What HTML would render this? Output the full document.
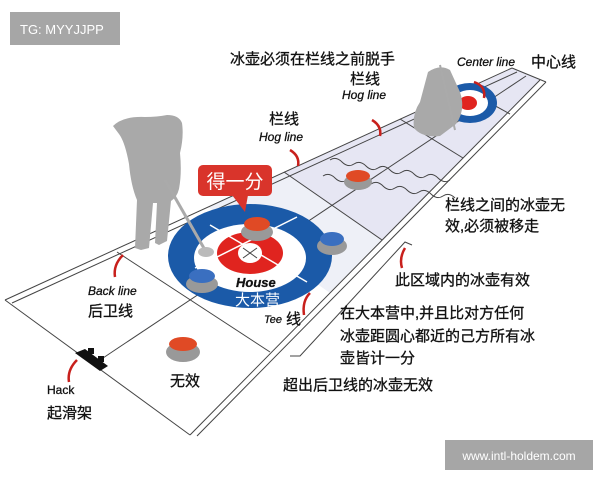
<!DOCTYPE html>
<html><head><meta charset="utf-8"><style>
html,body{margin:0;padding:0;background:#fff;}
svg{display:block}
text{font-family:"Liberation Sans","Noto Sans CJK SC",sans-serif;}
</style></head><body>
<svg width="600" height="480" viewBox="0 0 600 480" xmlns="http://www.w3.org/2000/svg">
<rect width="600" height="480" fill="#fff"/>
<polygon points="5,300 512,68 540,80 190,435" fill="#fff"/>
<polygon points="284,172 512,68 540,80 382,240" fill="#e6e6f3"/>
<polygon points="208,207 284,172 382,240 330,293" fill="#eef0f7"/>
<g stroke="#444" stroke-width="1" fill="none">
<line x1="5" y1="300" x2="512" y2="68"/>
<line x1="12" y1="303" x2="517" y2="72"/>
<line x1="190" y1="435" x2="540" y2="80"/>
<line x1="197" y1="436" x2="546" y2="82"/>
<line x1="5" y1="300" x2="190" y2="435"/>
<line x1="512" y1="68" x2="546" y2="82"/>
<line x1="117" y1="252" x2="270" y2="352"/>
<line x1="284" y1="172" x2="382" y2="240"/>
<line x1="400" y1="119" x2="463" y2="158"/>
<line x1="470" y1="92" x2="510" y2="114"/>
<line x1="100" y1="360" x2="526" y2="76"/>
<polyline points="290,356 300,356 405,242 412,245"/>
</g>
<path d="M330,160 q6,-4 12,2 t12,2 t12,2 t12,2 t12,2 t12,2 t12,2 t12,2 t12,2 t12,2" stroke="#444" fill="none"/>
<path d="M325,168 q6,-4 12,2 t12,2 t12,2 t12,2 t12,2 t12,2 t12,2 t12,2 t12,2 t12,2 t12,2" stroke="#444" fill="none" transform="translate(-2,8)"/>
<ellipse cx="250" cy="256" rx="82" ry="52" fill="#1b5aa8"/>
<ellipse cx="250" cy="258" rx="56" ry="34" fill="#fff"/>
<ellipse cx="250" cy="253" rx="33" ry="21" fill="#e0241f"/>
<ellipse cx="250" cy="253" rx="12" ry="10" fill="#fff"/>
<line x1="210" y1="225" x2="307" y2="282" stroke="#fff" stroke-width="1.5"/>
<line x1="195" y1="268" x2="297" y2="217" stroke="#fff" stroke-width="1.5"/>
<line x1="243" y1="248" x2="257" y2="258" stroke="#444"/>
<line x1="243" y1="258" x2="257" y2="248" stroke="#444"/>
<ellipse cx="470" cy="103" rx="27" ry="20" fill="#1b5aa8"/>
<ellipse cx="470" cy="103" rx="18" ry="13" fill="#fff"/>
<ellipse cx="468" cy="103" rx="9" ry="7" fill="#e0241f"/>
<g>
<ellipse cx="358" cy="182" rx="14" ry="8" fill="#999"/><ellipse cx="358" cy="176" rx="12" ry="6" fill="#e04a25"/>
<ellipse cx="257" cy="232" rx="16" ry="9" fill="#999"/><ellipse cx="257" cy="224" rx="13" ry="7" fill="#e04a25"/>
<ellipse cx="332" cy="246" rx="15" ry="9" fill="#999"/><ellipse cx="332" cy="239" rx="12" ry="7" fill="#3a6fc0"/>
<ellipse cx="202" cy="284" rx="16" ry="9" fill="#999"/><ellipse cx="202" cy="276" rx="13" ry="7" fill="#3a6fc0"/>
<ellipse cx="183" cy="352" rx="17" ry="10" fill="#999"/><ellipse cx="183" cy="344" rx="14" ry="7" fill="#e04a25"/>
</g>
<polygon points="75,353 85,349 108,366 100,371" fill="#111"/>
<rect x="88" y="348" width="6" height="6" fill="#111"/>
<rect x="98" y="356" width="6" height="6" fill="#111"/>
<!-- left figure -->
<path d="M113,126 q10,-10 32,-9 q12,0 22,-2 q12,0 15,8 q2,14 -2,30 q2,20 -1,36 q-2,8 -8,12 l-4,40 l-8,4 l-4,-2 l2,-40 l-4,0 l-4,45 l-8,2 l-6,-2 l2,-48 q-6,-14 -8,-36 q-4,-22 -10,-30 z" fill="#a9a9a9"/>
<line x1="165" y1="180" x2="205" y2="250" stroke="#aaa" stroke-width="3"/>
<ellipse cx="206" cy="252" rx="8" ry="5" fill="#bbb"/>
<!-- far figure -->
<path d="M428,72 q12,-8 22,-2 l10,22 q6,18 -4,32 l-16,12 q-18,2 -26,-8 q-2,-14 6,-26 z" fill="#a9a9a9"/>
<line x1="440" y1="65" x2="455" y2="130" stroke="#aaa" stroke-width="2"/>
<rect x="198" y="165" width="74" height="31" rx="5" fill="#d9342b"/>
<polygon points="232,195 248,195 245,212" fill="#d9342b"/>
<text x="235" y="188" font-size="19" fill="#fff" text-anchor="middle">得一分</text>
<g stroke="#c8201c" stroke-width="2.5" fill="none">
<path d="M474,82 q12,4 10,16"/><path d="M372,120 q10,6 8,16"/><path d="M290,150 q10,6 8,16"/>
<path d="M405,248 q-6,10 -3,20"/><path d="M310,293 q-8,8 -6,22"/>
<path d="M123,255 q-10,10 -8,22"/><path d="M77,360 q-10,10 -8,22"/>
</g>
<g fill="#111" stroke="#111" stroke-width="0.3">
<text x="230" y="64" font-size="15">冰壶必须在栏线之前脱手</text>
<text x="457" y="66" font-size="12" font-style="italic">Center line</text>
<text x="531" y="67" font-size="15">中心线</text>
<text x="350" y="84" font-size="15">栏线</text>
<text x="342" y="99" font-size="12" font-style="italic">Hog line</text>
<text x="269" y="124" font-size="15">栏线</text>
<text x="259" y="141" font-size="12" font-style="italic">Hog line</text>
<text x="445" y="210" font-size="15">栏线之间的冰壶无</text>
<text x="445" y="231" font-size="15">效,必须被移走</text>
<text x="395" y="285" font-size="15">此区域内的冰壶有效</text>
<text x="340" y="318" font-size="15">在大本营中,并且比对方任何</text>
<text x="340" y="341" font-size="15">冰壶距圆心都近的己方所有冰</text>
<text x="340" y="363" font-size="15">壶皆计一分</text>
<text x="283" y="390" font-size="15">超出后卫线的冰壶无效</text>
<text x="88" y="295" font-size="12" font-style="italic">Back line</text>
<text x="88" y="316" font-size="15">后卫线</text>
<text x="47" y="394" font-size="12">Hack</text>
<text x="47" y="418" font-size="15">起滑架</text>
<text x="170" y="386" font-size="15">无效</text>
<text x="236" y="287" font-size="13" font-weight="bold" font-style="italic">House</text>
<text x="264" y="323" font-size="11" font-style="italic">Tee</text>
<text x="286" y="324" font-size="15">线</text>
</g>
<text x="235" y="305" font-size="15" fill="#fff">大本营</text>
<rect x="10" y="12" width="110" height="33" fill="#a6a6a6"/>
<text x="20" y="34" font-size="13" fill="#fff">TG: MYYJJPP</text>
<rect x="445" y="440" width="148" height="30" fill="#a6a6a6"/>
<text x="519" y="460" font-size="12" fill="#fff" text-anchor="middle">www.intl-holdem.com</text>
</svg>
</body></html>
